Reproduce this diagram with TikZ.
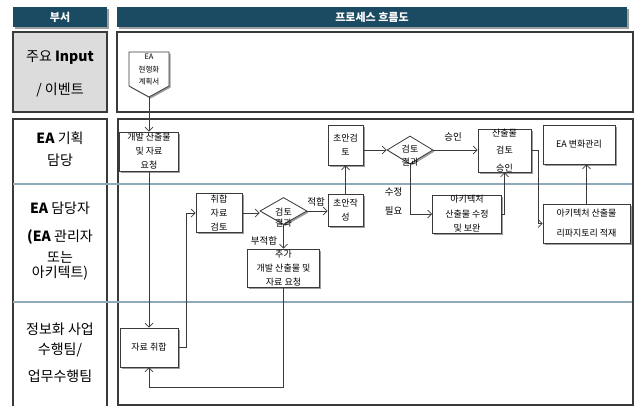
\documentclass[tikz,border=0pt]{standalone}
\usepackage{fontspec}
\setmainfont{Noto Sans CJK KR}
\usetikzlibrary{shapes.geometric,shadows,arrows.meta}
\definecolor{hdr}{HTML}{1B4A63}
\definecolor{lanegray}{HTML}{DCDCDC}
\definecolor{laneblue}{HTML}{8FAABB}
\definecolor{frm}{HTML}{3A3A3A}
\begin{document}
\begin{tikzpicture}[x=1pt,y=-1pt,
 shd/.style={drop shadow={shadow xshift=1.6pt,shadow yshift=-1.6pt,fill=black!70,opacity=0.55}},
 box/.style={draw=frm, line width=0.8pt, fill=white, shd, align=center, inner sep=0pt, font=\fontsize{9}{14}\selectfont},
 dia/.style={diamond, draw=frm, line width=0.8pt, fill=white, shd, inner sep=0pt},
 conn/.style={draw=frm, line width=0.7pt, -{Straight Barb[length=4pt,width=8pt]}},
 lbl/.style={font=\fontsize{9.5}{19}\selectfont, inner sep=0pt, align=center},
 lane/.style={font=\fontsize{14}{16}\selectfont, inner sep=0pt},
 hd/.style={fill=hdr, shd, text=white, font=\bfseries\fontsize{11}{13}\selectfont},
 frame/.style={draw=frm, line width=1.1pt}
]
\useasboundingbox (0,0) rectangle (636,406);

% headers
\node[hd, minimum width=94pt, minimum height=20pt] (h1) at (60,17) {부서};
\node[hd, minimum width=510pt, minimum height=20pt] (h2) at (372,17) {프로세스 흐름도};

% row 1
\draw[frame, fill=lanegray] (13,32) rectangle (107,112);
\draw[frame] (117,32) rectangle (633,112);
\node[lane] (l1) at (60,58) {주요 \textbf{Input}};
\node[lane] (l2) at (60,90) {/ 이벤트};

% lanes
\draw[frame] (13,407) -- (13,119) -- (107,119) -- (107,407);
\draw[frame] (118,119) rectangle (633,405);
\draw[laneblue, line width=1.2pt] (13,184) -- (632,184);
\draw[laneblue, line width=1.2pt] (13,302) -- (632,302);

\node[lane] (a1) at (60,138) {\textbf{EA} 기획};
\node[lane] (a2) at (60,160) {담당};
\node[lane] (b1) at (60,208) {\textbf{EA} 담당자};
\node[lane] (b2) at (60,237) {\textbf{(EA} 관리자};
\node[lane] (b3) at (60,257) {또는};
\node[lane] (b4) at (60,273) {아키텍트)};
\node[lane] (c1) at (60,329) {정보화 사업};
\node[lane] (c2) at (60,350) {수행팀/};
\node[lane] (c3) at (60,376) {업무수행팀};

% document shape
\draw[draw=frm, line width=0.8pt, fill=white, shd] (129,52) -- (169,52) -- (169,86) -- (149,97) -- (129,86) -- cycle;
\coordinate (docpt) at (149,97);
\node[font=\fontsize{7.5}{12.5}\selectfont, align=center, inner sep=0pt] (doc) at (149,70) {EA\\현행화\\계획서};

% process nodes
\node[box, minimum width=59pt, minimum height=39pt] (n1) at (149,151.5) {개발 산출물\\및 자료\\요청};
\node[box, minimum width=58pt, minimum height=39pt] (n10) at (149,347.5) {자료 취합};
\node[box, minimum width=46pt, minimum height=39pt] (n2) at (219,213) {취합\\자료\\검토};
\node[dia, minimum width=47pt, minimum height=27pt,
  label={[font=\fontsize{9}{11}\selectfont, align=center, inner sep=0pt, yshift=-7pt]center:검토\\결과}] (d1) at (283.5,211) {};
\node[box, minimum width=72pt, minimum height=38pt] (n3) at (283.5,268) {추가\\개발 산출물 및\\자료 요청};
\node[box, minimum width=35pt, minimum height=32pt] (n4) at (345.5,210) {초안작\\성};
\node[box, minimum width=35pt, minimum height=40pt] (n5) at (345.5,145) {초안검\\토};
\node[dia, minimum width=46pt, minimum height=28pt,
  label={[font=\fontsize{9}{13}\selectfont, align=center, inner sep=0pt, yshift=-6pt]center:검토\\결과}] (d2) at (410,150) {};
\node[box, minimum width=53pt, minimum height=39pt, font=\fontsize{9}{17.5}\selectfont] (n6) at (504.5,150.5) {산출물\\검토\\승인};
\node[box, minimum width=72pt, minimum height=39pt] (n7) at (579,144.5) {EA 변화관리};
\node[box, minimum width=69pt, minimum height=38pt, font=\fontsize{9}{14.5}\selectfont] (n8) at (467,214) {아키텍처\\산출물 수정\\및 보완};
\node[box, minimum width=87pt, minimum height=39pt, font=\fontsize{9}{20}\selectfont] (n9) at (586.5,223.5) {아키텍처 산출물\\리파지토리 적재};

% labels
\node[lbl] (t1) at (316,202) {적합};
\node[lbl] (t2) at (264,241) {부적합};
\node[lbl] (t3) at (453,137) {승인};
\node[lbl] (t4) at (393.5,201) {수정\\필요};

\coordinate (bot) at (0,387);

% connectors
\draw[conn] (docpt) -- (docpt |- n1.north);
\draw[conn] (n1.south) -- (n1.south |- n10.north);
\draw[conn] (n10.east) -- ++(8,0) |- (n2.west);
\draw[conn] (n2.east) -- (n2.east -| d1.west);
\draw[conn] (d1.east) -- (d1.east -| n4.west);
\draw[conn] (d1.south) -- (n3.north);
\draw[conn] (n3.south) -- (n3.south |- bot) -| (n10.south);
\draw[conn] (n4.north) -- (n5.south);
\draw[conn] (n5.east |- d2.west) -- (d2.west);
\draw[conn] (d2.east) -- (d2.east -| n6.west);
\draw[conn] (d2.south) |- (n8.west);
\draw[conn] (n8.east) -| (n6.south);
\draw[conn] (n6.east) -- ++(7,0) |- (n9.west);
\draw[conn] (n9.north) -- (n9.north |- n7.south);
\end{tikzpicture}
\end{document}
